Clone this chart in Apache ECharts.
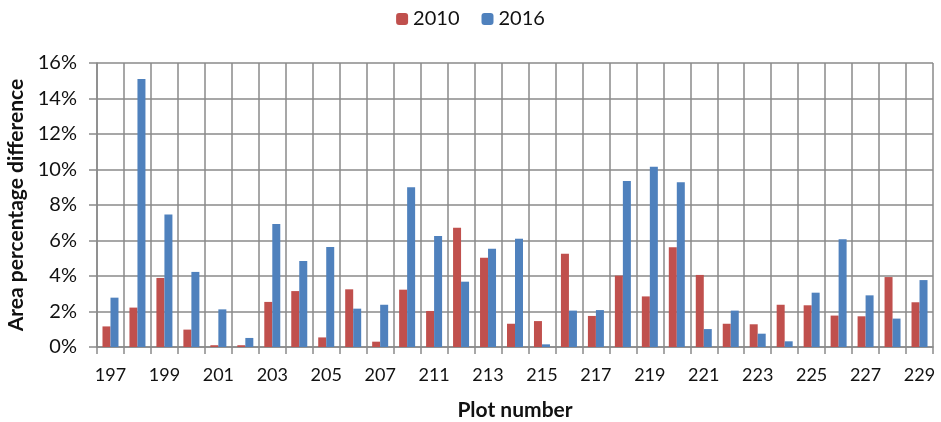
<!DOCTYPE html>
<html>
<head>
<meta charset="utf-8">
<script src="https://cdn.jsdelivr.net/npm/echarts@6/dist/echarts.min.js"></script>
<style>
html,body{margin:0;padding:0;background:#fff;}
#chart{width:941px;height:422px;}
</style>
</head>
<body>
<div id="chart"></div>
<script>
const categories = ['197','198','199','200','201','202','203','204','205','206','207','209','211','212','213','214','215','216','217','218','219','220','221','222','223','224','225','226','227','228','229'];
const values2010 = [1.16,2.22,3.89,0.98,0.10,0.10,2.54,3.15,0.54,3.25,0.30,3.23,2.03,6.72,5.03,1.31,1.46,5.26,1.75,4.02,2.85,5.62,4.06,1.31,1.28,2.38,2.35,1.77,1.73,3.94,2.52];
const values2016 = [2.78,15.10,7.46,4.23,2.12,0.51,6.93,4.85,5.63,2.16,2.38,9.00,6.25,3.68,5.54,6.10,0.15,2.05,2.08,9.35,10.16,9.28,1.01,2.05,0.75,0.32,3.06,6.07,2.91,1.60,3.77];
const yTicks = {min:0, max:16, interval:2};

const font = 'Lato, "Open Sans", sans-serif';
const gridColor = '#8a8a8a';
const chart = echarts.init(document.getElementById('chart'), null, {renderer:'canvas'});
chart.setOption({
  animation:false,
  textStyle:{fontFamily:font},
  legend:{
    top:4, left:'center', itemWidth:12, itemHeight:12, itemGap:22,
    textStyle:{fontSize:20, color:'#111', fontFamily:font},
    data:['2010','2016']
  },
  grid:{left:97, right:8, top:63, bottom:75, containLabel:false, outerBoundsMode:'none'},
  xAxis:{
    type:'category', data:categories,
    name:'Plot number', nameLocation:'middle', nameGap:53,
    nameTextStyle:{fontSize:21, fontWeight:'bold', color:'#111', fontFamily:font},
    axisLine:{lineStyle:{color:gridColor, width:1.5}},
    axisTick:{show:true, length:7, interval:0, lineStyle:{color:gridColor, width:1.5}},
    splitLine:{show:true, interval:0, lineStyle:{color:gridColor, width:1.5}},
    axisLabel:{interval:1, fontSize:18, color:'#111', margin:19, fontFamily:font}
  },
  yAxis:{
    type:'value', min:yTicks.min, max:yTicks.max, interval:yTicks.interval,
    name:'Area percentage difference', nameLocation:'middle', nameGap:67,
    nameTextStyle:{fontSize:21, fontWeight:'bold', color:'#111', fontFamily:font},
    axisLine:{show:true, lineStyle:{color:gridColor, width:1.5}},
    axisTick:{show:true, length:8, lineStyle:{color:gridColor, width:1.5}},
    splitLine:{show:true, lineStyle:{color:gridColor, width:1.5}},
    axisLabel:{fontSize:20, color:'#111', margin:20, formatter:v=>v+'%', fontFamily:font}
  },
  series:[
    {name:'2010', type:'bar', data:values2010, barWidth:8, barGap:'0%', itemStyle:{color:'#C0504D'}},
    {name:'2016', type:'bar', data:values2016, barWidth:8, barGap:'0%', itemStyle:{color:'#4F81BD'}}
  ]
});
</script>
</body>
</html>
